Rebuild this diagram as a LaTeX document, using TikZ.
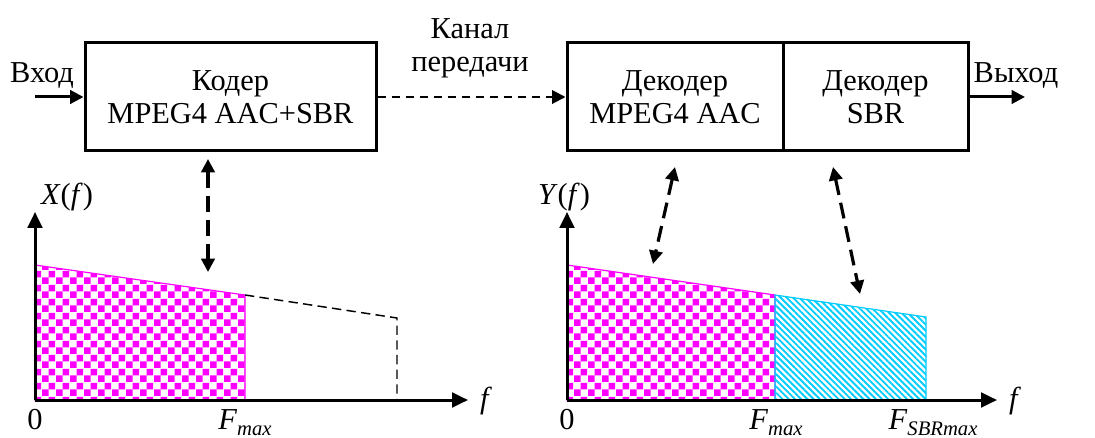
\documentclass[tikz,border=0pt]{standalone}
\usepackage{fontspec}
\setmainfont{Liberation Serif}
\usetikzlibrary{arrows.meta,patterns.meta}
\definecolor{sbrMagenta}{HTML}{FF00FF}
\definecolor{sbrCyan}{HTML}{00CCFF}
\tikzdeclarepattern{
  name=sbrchecker,
  type=uncolored,
  bottom left={(0pt,0pt)},
  top right={(10.5pt,10.5pt)},
  tile size={(10.5pt,10.5pt)},
  code={
    \fill (0pt,0pt) rectangle (5.25pt,5.25pt);
    \fill (5.25pt,5.25pt) rectangle (10.5pt,10.5pt);
  }
}
\tikzset{
  sbrfont/.style={font=\fontsize{22.8}{24.75}\selectfont},
  sbrbox/.style={draw,line width=2.25pt,sbrfont,align=center,inner sep=0pt,
                 minimum height=81pt},
  sbrarrow/.style={-{Triangle[length=10pt,width=10pt]},line width=2.25pt},
  sbrchan/.style={sbrarrow,line width=1.6pt,dash pattern=on 6.5pt off 4pt},
  sbrlink/.style={{Triangle[length=10pt,width=10pt]}-{Triangle[length=10pt,width=10pt]},
                  line width=2.4pt,dash pattern=on 12pt off 6pt},
  sbraxis/.style={-{Triangle[length=12pt,width=11pt]},line width=2.25pt},
  sbrdash/.style={line width=1.1pt,dash pattern=on 7pt off 4pt},
  sbrlabel/.style={sbrfont,inner sep=0pt},
  sbrlow/.style={pattern={sbrchecker},pattern color=sbrMagenta,
                 draw=sbrMagenta,line width=0.9pt},
  sbrhigh/.style={pattern={Lines[angle=-45,distance=3.3pt,line width=1.4pt]},
                  pattern color=sbrCyan,draw=sbrCyan,line width=0.9pt}
}
\newcommand{\sbrsub}[1]{\raisebox{-0.2em}{\fontsize{15.5}{16}\selectfont\itshape #1}}

\begin{document}
\begin{tikzpicture}[x=0.75pt,y=-0.75pt]
  \useasboundingbox (0,0) rectangle (1095,438);

  % coder / channel / decoders
  \node[sbrbox,minimum width=218.25pt] (enc) at (230.5,97)
    {Кодер\\MPEG4 AAC+SBR};
  \node[sbrbox,minimum width=162pt] (dec) at (675,97)
    {Декодер\\MPEG4 AAC};
  \node[sbrbox,minimum width=138.75pt] (sbr) at (875.5,97)
    {Декодер\\SBR};
  \node[sbrlabel,anchor=base] (inlab) at (42,83) {Вход};
  \node[sbrlabel,anchor=base] (outlab) at (1016,83) {Выход};
  \node[sbrlabel,align=center] (chan) at (470,48) {Канал\\передачи};
  \coordinate (inS) at (35,97);
  \coordinate (outE) at (1025,97);
  \draw[sbrarrow] (inS) -- (enc.west);
  \draw[sbrchan] (enc.east) -- (dec.west);
  \draw[sbrarrow] (sbr.east) -- (outE);

  % spectrum X(f)
  \coordinate (xo) at (35,400);
  \coordinate (xtop) at (35,212);
  \coordinate (xend) at (468,400);
  \path[sbrlow] (35,265) -- (245,295) -- (245,400) -- (35,400) -- cycle;
  \draw[sbrdash] (245,295) -- (397,318) -- (397,400);
  \draw[sbraxis] (xo) -- (xtop);
  \draw[sbraxis] (xo) -- (xend);
  \node[sbrlabel,anchor=base] (xlab) at (67,205) {\textit{X}(\textit{f})};
  \node[sbrlabel,anchor=base] (xzero) at (35,429) {0};
  \node[sbrlabel,anchor=base] (xfmax) at (245,429) {\textit{F}\sbrsub{max}};
  \node[sbrlabel,anchor=base] (xf) at (486,408) {\textit{f}};
  \coordinate (encA) at (208,159);
  \coordinate (encB) at (208,272);
  \draw[sbrlink] (encA) -- (encB);

  % spectrum Y(f)
  \coordinate (yo) at (567,400);
  \coordinate (ytop) at (567,212);
  \coordinate (yend) at (997,400);
  \path[sbrlow] (567,265) -- (775,295) -- (775,400) -- (567,400) -- cycle;
  \path[sbrhigh] (775,295) -- (926,317) -- (926,400) -- (775,400) -- cycle;
  \draw[sbraxis] (yo) -- (ytop);
  \draw[sbraxis] (yo) -- (yend);
  \node[sbrlabel,anchor=base] (ylab) at (564,205) {\textit{Y}(\textit{f})};
  \node[sbrlabel,anchor=base] (yzero) at (567,429) {0};
  \node[sbrlabel,anchor=base] (yfmax) at (776,429) {\textit{F}\sbrsub{max}};
  \node[sbrlabel,anchor=base] (yfsbr) at (933,429) {\textit{F}\sbrsub{SBRmax}};
  \node[sbrlabel,anchor=base] (yf) at (1015,408) {\textit{f}};
  \coordinate (decA) at (675,167);
  \coordinate (decB) at (653,264);
  \coordinate (sbrA) at (833,167);
  \coordinate (sbrB) at (860,294);
  \draw[sbrlink] (decA) -- (decB);
  \draw[sbrlink] (sbrA) -- (sbrB);
\end{tikzpicture}
\end{document}
